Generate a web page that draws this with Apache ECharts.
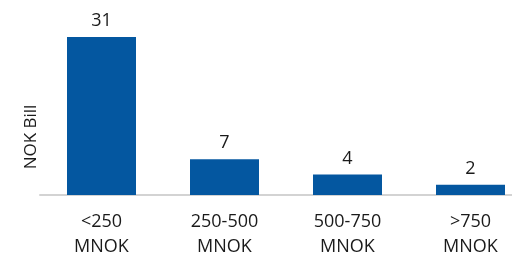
<!DOCTYPE html>
<html>
<head>
<meta charset="utf-8">
<script src="https://cdn.jsdelivr.net/npm/echarts@6/dist/echarts.min.js"></script>
<style>
  html, body { margin: 0; padding: 0; background: #fff; overflow: hidden; }
  #chart { width: 532px; height: 259px; }
</style>
</head>
<body>
<div id="chart"></div>
<script>
const categories = ['<250\nMNOK', '250-500\nMNOK', '500-750\nMNOK', '>750\nMNOK']
const values = [31, 7, 4, 2]
const yName = 'NOK Bill'

// 图表比窗口宽一点，让坐标轴线一直延伸到右边缘
const chart = echarts.init(document.getElementById('chart'))
chart.setOption({
  animation: false,
  grid: { left: 40, right: 0, top: 37, bottom: 63 },
  xAxis: {
    type: 'category',
    data: categories,
    axisLine: { lineStyle: { color: '#d3d3d3', width: 2 } },
    axisTick: { show: false },
    axisLabel: {
      color: '#1a1a1a',
      fontSize: 18,
      fontFamily: 'Open Sans',
      lineHeight: 25,
      margin: 14
    }
  },
  yAxis: {
    type: 'value',
    min: 0,
    max: 31,
    name: yName,
    nameLocation: 'middle',
    nameGap: 0,
    nameTextStyle: {
      color: '#1a1a1a',
      fontSize: 17,
      fontFamily: 'Open Sans',
      padding: [0, 42, 0, 0]
    },
    axisLine: { show: false },
    axisTick: { show: false },
    axisLabel: { show: false },
    splitLine: { show: false }
  },
  series: [{
    type: 'bar',
    data: values,
    barWidth: 69,
    itemStyle: { color: '#0457a0' },
    label: {
      show: true,
      position: 'top',
      distance: 7,
      color: '#1a1a1a',
      fontSize: 18,
      fontFamily: 'Open Sans'
    }
  }]
})
</script>
</body>
</html>
